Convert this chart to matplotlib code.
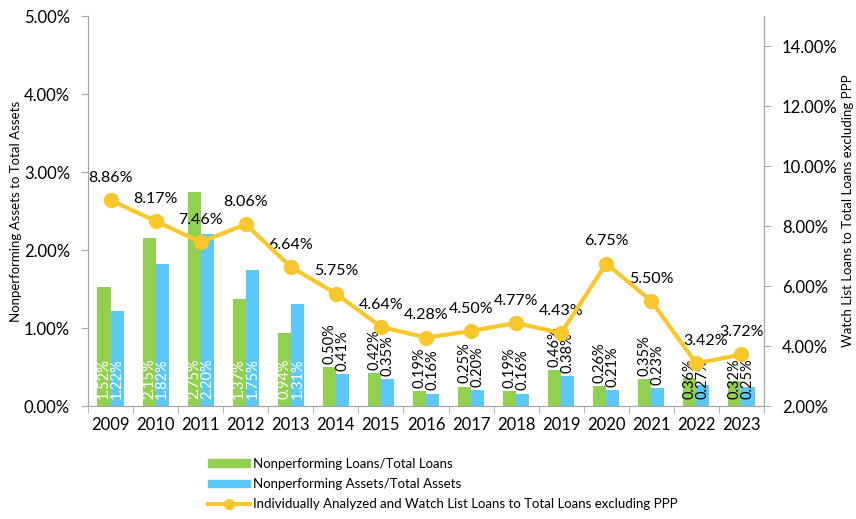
import numpy as np
import matplotlib.pyplot as plt
from matplotlib.patches import Patch
from matplotlib.lines import Line2D
from matplotlib.ticker import FuncFormatter

plt.rcParams['font.family'] = ['Lato', 'DejaVu Sans']

years = ['2009', '2010', '2011', '2012', '2013', '2014', '2015', '2016',
         '2017', '2018', '2019', '2020', '2021', '2022', '2023']
npl = [1.52, 2.15, 2.75, 1.37, 0.94, 0.50, 0.42, 0.19, 0.25, 0.19, 0.46, 0.26, 0.35, 0.36, 0.32]
npa = [1.22, 1.82, 2.20, 1.75, 1.31, 0.41, 0.35, 0.16, 0.20, 0.16, 0.38, 0.21, 0.23, 0.27, 0.25]
watch = [8.86, 8.17, 7.46, 8.06, 6.64, 5.75, 4.64, 4.28, 4.50, 4.77, 4.43, 6.75, 5.50, 3.42, 3.72]

green = '#92D050'
blue = '#5BC8F8'
gold = '#F9C62B'
grey = '#A6A6A6'

fig = plt.figure(figsize=(8.56, 5.19), dpi=100)
ax = fig.add_axes([0.1028, 0.2177, 0.7897, 0.7513])
ax2 = ax.twinx()

x = np.arange(len(years))
w = 0.29
b1 = ax.bar(x - w/2, npl, w, color=green)
b2 = ax.bar(x + w/2, npa, w, color=blue)

# bar labels: white inside for the tall bars, black above for the short ones,
# black inside for the last two years
for i in range(len(years)):
    for xv, v in ((x[i] - w/2, npl[i]), (x[i] + w/2, npa[i])):
        txt = '%.2f%%' % v
        if i <= 4:
            ax.text(xv, 0.09, txt, rotation=90, ha='center', va='bottom',
                    color='white', fontsize=10.5)
        elif i >= 13:
            ax.text(xv, 0.09, txt, rotation=90, ha='center', va='bottom',
                    color='black', fontsize=10.5)
        else:
            ax.text(xv, v + 0.04, txt, rotation=90, ha='center', va='bottom',
                    color='black', fontsize=10.5)

ax2.plot(x, watch, color=gold, lw=3, marker='o', ms=10, zorder=5)
for i, v in enumerate(watch):
    dx = 0.2 if i == 13 else 0
    ax2.annotate('%.2f%%' % v, (x[i] + dx, v), xytext=(0, 11), textcoords='offset points',
                 ha='center', va='bottom', fontsize=11.5)

ax.set_xlim(-0.5, len(years) - 0.5)
ax.set_ylim(0, 5)
ax2.set_ylim(2, 15)
ax.set_yticks(np.arange(0, 5.01, 1))
ax2.set_yticks(np.arange(2, 14.01, 2))
pct = FuncFormatter(lambda v, p: '%.2f%%' % v)
ax.yaxis.set_major_formatter(pct)
ax2.yaxis.set_major_formatter(pct)

ax.set_xticks(x)
ax.set_xticklabels(years, fontsize=12)
ax.set_xticks(np.arange(-0.5, len(years)), minor=True)
ax.tick_params(axis='x', which='major', length=0, pad=8)
ax.tick_params(axis='x', which='minor', length=5, color=grey)
ax.tick_params(axis='y', labelsize=12, length=5, color=grey, pad=8)
ax2.tick_params(axis='y', labelsize=12, length=5, color=grey, pad=8)

for a in (ax, ax2):
    a.spines['top'].set_visible(False)
    for s in ('left', 'right', 'bottom'):
        a.spines[s].set_color(grey)

ax.set_ylabel('Nonperforming Assets to Total Assets', fontsize=9.5, labelpad=1)
ax2.set_ylabel('Watch List Loans to Total Loans excluding PPP', fontsize=9.5, labelpad=3)

handles = [Patch(color=green), Patch(color=blue),
           Line2D([], [], color=gold, lw=3, marker='o', ms=7)]
labels = ['Nonperforming Loans/Total Loans', 'Nonperforming Assets/Total Assets',
          'Individually Analyzed and Watch List Loans to Total Loans excluding PPP']
fig.legend(handles, labels, loc='upper left', bbox_to_anchor=(0.237, 0.128),
           frameon=False, fontsize=9.5, handlelength=3.2, handleheight=0.5,
           labelspacing=0.62, handletextpad=0.2, borderaxespad=0)

plt.savefig('out.png', dpi=100)
